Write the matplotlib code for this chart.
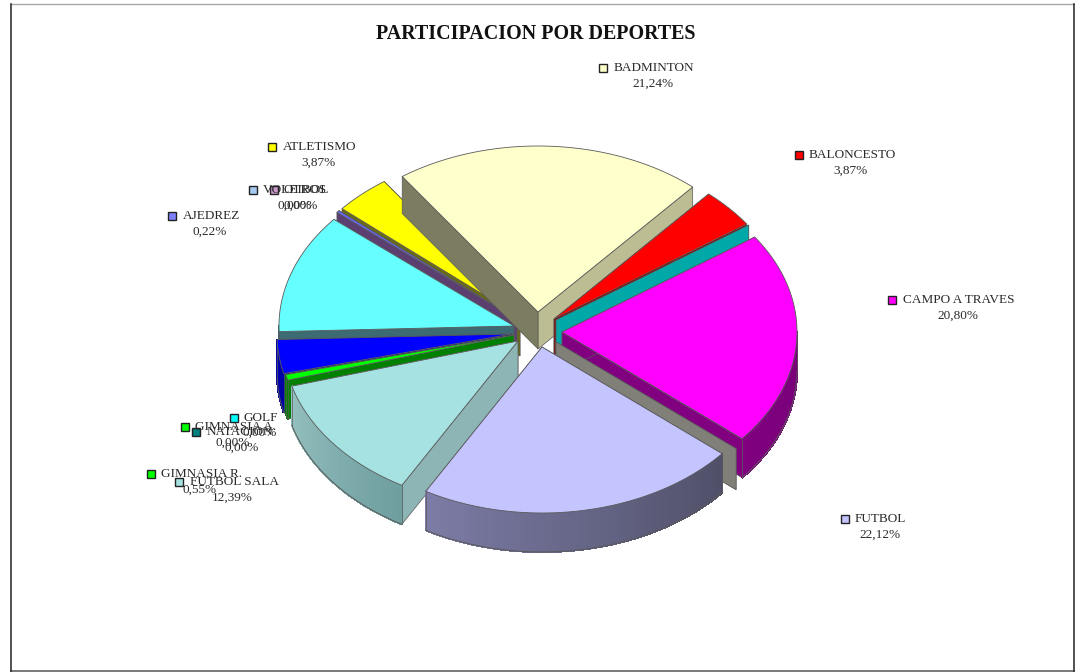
#!/usr/bin/env python3
"""Participacion por deportes: exploded 3D style pie, drawn on a pixel canvas."""

import numpy as np
import matplotlib
matplotlib.use("Agg")
import matplotlib.pyplot as plt
from matplotlib.colors import to_rgb
from matplotlib.patches import Polygon

plt.rcParams["font.family"] = ["Liberation Serif", "DejaVu Serif"]

# slices, clockwise from BADMINTON (percent). Two slices carry no readable label.
slice_names = ["BADMINTON", "BALONCESTO", "GOLF", "CAMPO A TRAVES", "OTROS", "FUTBOL",
               "FUTBOL SALA", "GIMNASIA R.", "SIN ETIQUETA 1", "SIN ETIQUETA 2",
               "AJEDREZ", "ATLETISMO"]
slice_values = [21.24, 3.87, 0.00, 20.80, 0.00, 22.12, 12.39, 0.55, 3.30, 11.64, 0.22, 3.87]

# labels as printed on the chart
label_names = ["BADMINTON", "BALONCESTO", "CAMPO A TRAVES", "FUTBOL", "ATLETISMO", "VOLEIBOL",
               "OTROS", "AJEDREZ", "GOLF", "GIMNASIA A.", "NATACION", "GIMNASIA R.", "FUTBOL SALA"]
label_values = [21.24, 3.87, 20.80, 22.12, 3.87, 0.00, 0.00, 0.22, 0.00, 0.00, 0.00, 0.55, 12.39]

# ── styling, keyed by slice ──────────────────────────────────
START_ANGLE = -125.3   # ellipse parameter, clockwise on screen
RX, RY = 235, 166
APEX = {"BADMINTON": (538, 312), "BALONCESTO": (554, 319), "GOLF": (556, 320),
        "CAMPO A TRAVES": (562, 332), "OTROS": (556, 342), "FUTBOL": (542, 347),
        "FUTBOL SALA": (518, 341), "GIMNASIA R.": (514, 335), "SIN ETIQUETA 1": (512, 334),
        "SIN ETIQUETA 2": (514, 326), "AJEDREZ": (517, 319), "ATLETISMO": (520, 317)}
DEPTH = {"BADMINTON": 37, "GOLF": 37, "OTROS": 41}
TOP = {"BADMINTON": "#FFFFCC", "BALONCESTO": "#FF0000", "GOLF": "#00A8A8",
       "CAMPO A TRAVES": "#FF00FF", "OTROS": "#808078", "FUTBOL": "#C4C4FF",
       "FUTBOL SALA": "#A6E2E2", "GIMNASIA R.": "#00FF00", "SIN ETIQUETA 1": "#0000FF",
       "SIN ETIQUETA 2": "#66FFFF", "AJEDREZ": "#6666FF", "ATLETISMO": "#FFFF00"}
# cut face on the clockwise-start side, then on the clockwise-end side
CUT = {"BADMINTON": ("#7C7C60", "#BDBD94"), "BALONCESTO": ("#800000", "#800000"),
       "GOLF": ("#00A8A8", "#00A8A8"), "CAMPO A TRAVES": ("#800080", "#800080"),
       "OTROS": ("#808078", "#808078"), "FUTBOL": ("#60607F", "#60607F"),
       "FUTBOL SALA": ("#8DB5B5", "#8DB5B5"), "GIMNASIA R.": ("#008000", "#008000"),
       "SIN ETIQUETA 1": ("#00008B", "#00008B"), "SIN ETIQUETA 2": ("#3C6B73", "#3C6B73"),
       "AJEDREZ": ("#5A3F70", "#5A3F70"), "ATLETISMO": ("#6B6B10", "#6B6B10")}
# outer rim colour at the start and at the end of the slice
RIM = {"BADMINTON": ("#BDBD94", "#BDBD94"), "BALONCESTO": ("#800000", "#800000"),
       "GOLF": ("#00A8A8", "#00A8A8"), "CAMPO A TRAVES": ("#700070", "#800080"),
       "OTROS": ("#808078", "#808078"), "FUTBOL": ("#4F4F68", "#7C7CA6"),
       "FUTBOL SALA": ("#6F9E9E", "#94BFBF"), "GIMNASIA R.": ("#008000", "#008000"),
       "SIN ETIQUETA 1": ("#0000A0", "#0000B0"), "SIN ETIQUETA 2": ("#3C6B73", "#3C6B73"),
       "AJEDREZ": ("#5A3F70", "#5A3F70"), "ATLETISMO": ("#6B6B10", "#6B6B10")}
DRAW_ORDER = ["ATLETISMO", "AJEDREZ", "SIN ETIQUETA 2", "SIN ETIQUETA 1", "GIMNASIA R.",
              "FUTBOL SALA", "BADMINTON", "BALONCESTO", "GOLF", "CAMPO A TRAVES", "OTROS", "FUTBOL"]
EDGE = "#5A5A5A"

# marker centre, text left edge and percent centre, in pixels
LABEL_POS = {"BADMINTON": (603, 68, 614, 653, 84), "BALONCESTO": (799, 155, 809, 851, 171),
             "CAMPO A TRAVES": (892, 300, 903, 958, 316), "FUTBOL": (845, 519, 855, 880, 535),
             "ATLETISMO": (272, 147, 283, 318, 163), "VOLEIBOL": (253, 190, 263, 295, 206),
             "OTROS": (274, 190, 284, 301, 206), "AJEDREZ": (172, 216, 183, 210, 232),
             "GOLF": (234, 418, 244, 260, 433), "GIMNASIA A.": (185, 427, 195, 233, 443),
             "NATACION": (196, 432, 207, 242, 448), "GIMNASIA R.": (151, 474, 161, 200, 490),
             "FUTBOL SALA": (179, 482, 190, 232, 498)}
LABEL_COLOR = {"BADMINTON": "#FFFFCC", "BALONCESTO": "#FF0000", "CAMPO A TRAVES": "#FF00FF",
               "FUTBOL": "#C4C4FF", "ATLETISMO": "#FFFF00", "VOLEIBOL": "#A6CAF0",
               "OTROS": "#CC99CC", "AJEDREZ": "#7F7FFF", "GOLF": "#00FFFF",
               "GIMNASIA A.": "#00FF00", "NATACION": "#008080", "GIMNASIA R.": "#00FF00",
               "FUTBOL SALA": "#A6E2E2"}


def point(apex, deg):
    t = np.radians(deg)
    return apex[0] + RX * np.cos(t), apex[1] + RY * np.sin(t)


def draw_slice(ax, name, t0, t1, z):
    apex = APEX[name]
    depth = DEPTH.get(name, 39)
    # cut faces first, the top and rim hide whatever faces backwards
    for deg, col in zip((t1, t0), (CUT[name][1], CUT[name][0])):
        x, y = point(apex, deg)
        ax.add_patch(Polygon([apex, (x, y), (x, y + depth), (apex[0], apex[1] + depth)],
                             closed=True, fc=col, ec=EDGE, lw=0.5, zorder=z))
    # rim in short quads so the shading can run along the arc
    lo, hi = max(t0, 0), min(t1, 180)
    if hi > lo:
        steps = np.linspace(lo, hi, max(int(hi - lo), 2) + 1)
        c0, c1 = np.array(to_rgb(RIM[name][0])), np.array(to_rgb(RIM[name][1]))
        for a, b in zip(steps[:-1], steps[1:]):
            f = ((a + b) / 2 - t0) / max(t1 - t0, 1e-6)
            xa, ya = point(apex, a)
            xb, yb = point(apex, b)
            col = tuple(c0 + (c1 - c0) * f)
            # no antialiasing here, blended seams read as stripes
            ax.add_patch(Polygon([(xa, ya), (xb, yb), (xb, yb + depth), (xa, ya + depth)],
                                 closed=True, fc=col, ec=col, lw=0.8, antialiased=False, zorder=z))
        xs, ys = point(apex, steps)
        ax.plot(xs, ys + depth, color=EDGE, lw=0.7, zorder=z)
        for deg in (lo, hi):
            xe, ye = point(apex, deg)
            ax.plot([xe, xe], [ye, ye + depth], color=EDGE, lw=0.5, zorder=z)
    if t1 > t0:
        arc = np.linspace(t0, t1, max(int(t1 - t0) * 2, 4))
        xs, ys = point(apex, arc)
        pts = [apex] + list(zip(xs, ys))
        ax.add_patch(Polygon(pts, closed=True, fc=TOP[name], ec=EDGE, lw=0.6,
                             joinstyle="round", zorder=z))


fig = plt.figure(figsize=(10.75, 6.72), dpi=100)
ax = fig.add_axes([0, 0, 1, 1])
ax.set_xlim(0, 1075)
ax.set_ylim(672, 0)
ax.axis("off")

# chart frame, the scan left top and bottom lighter than the sides
ax.plot([10.5, 1073.5], [3.5, 3.5], color="#A8A8A8", lw=1.0, zorder=1)
ax.plot([10.5, 1073.5], [671, 671], color="#787878", lw=1.4, zorder=1)
ax.plot([10.5, 10.5], [3.5, 671], color="#222222", lw=1.1, zorder=1)
ax.plot([1073.5, 1073.5], [3.5, 671], color="#222222", lw=1.1, zorder=1)

# slice angles from the percentages
spans = np.array(slice_values) * 3.6
ends = START_ANGLE + np.cumsum(spans)
starts = ends - spans
angles = {n: (a, b) for n, a, b in zip(slice_names, starts, ends)}

for z, name in enumerate(DRAW_ORDER, start=2):
    draw_slice(ax, name, angles[name][0], angles[name][1], z)

ax.text(535.5, 34, "PARTICIPACION POR DEPORTES", ha="center", va="center",
        fontsize=14.45, fontweight="bold", color="#111111", zorder=30)

for name, val in zip(label_names, label_values):
    mx, my, tx, px, py = LABEL_POS[name]
    ax.plot([mx], [my], marker="s", ms=5.6, mfc=LABEL_COLOR[name], mec="#222222", mew=1.0,
            ls="none", zorder=30)
    ax.text(tx, my, name, ha="left", va="center", fontsize=9.5, color="#2A2A2A", zorder=31)
    ax.text(px, py, f"{val:.2f}".replace(".", ",") + "%", ha="center", va="center",
            fontsize=9.5, color="#2A2A2A", zorder=31)

fig.savefig("out.png", dpi=100, facecolor="white")
plt.close(fig)
